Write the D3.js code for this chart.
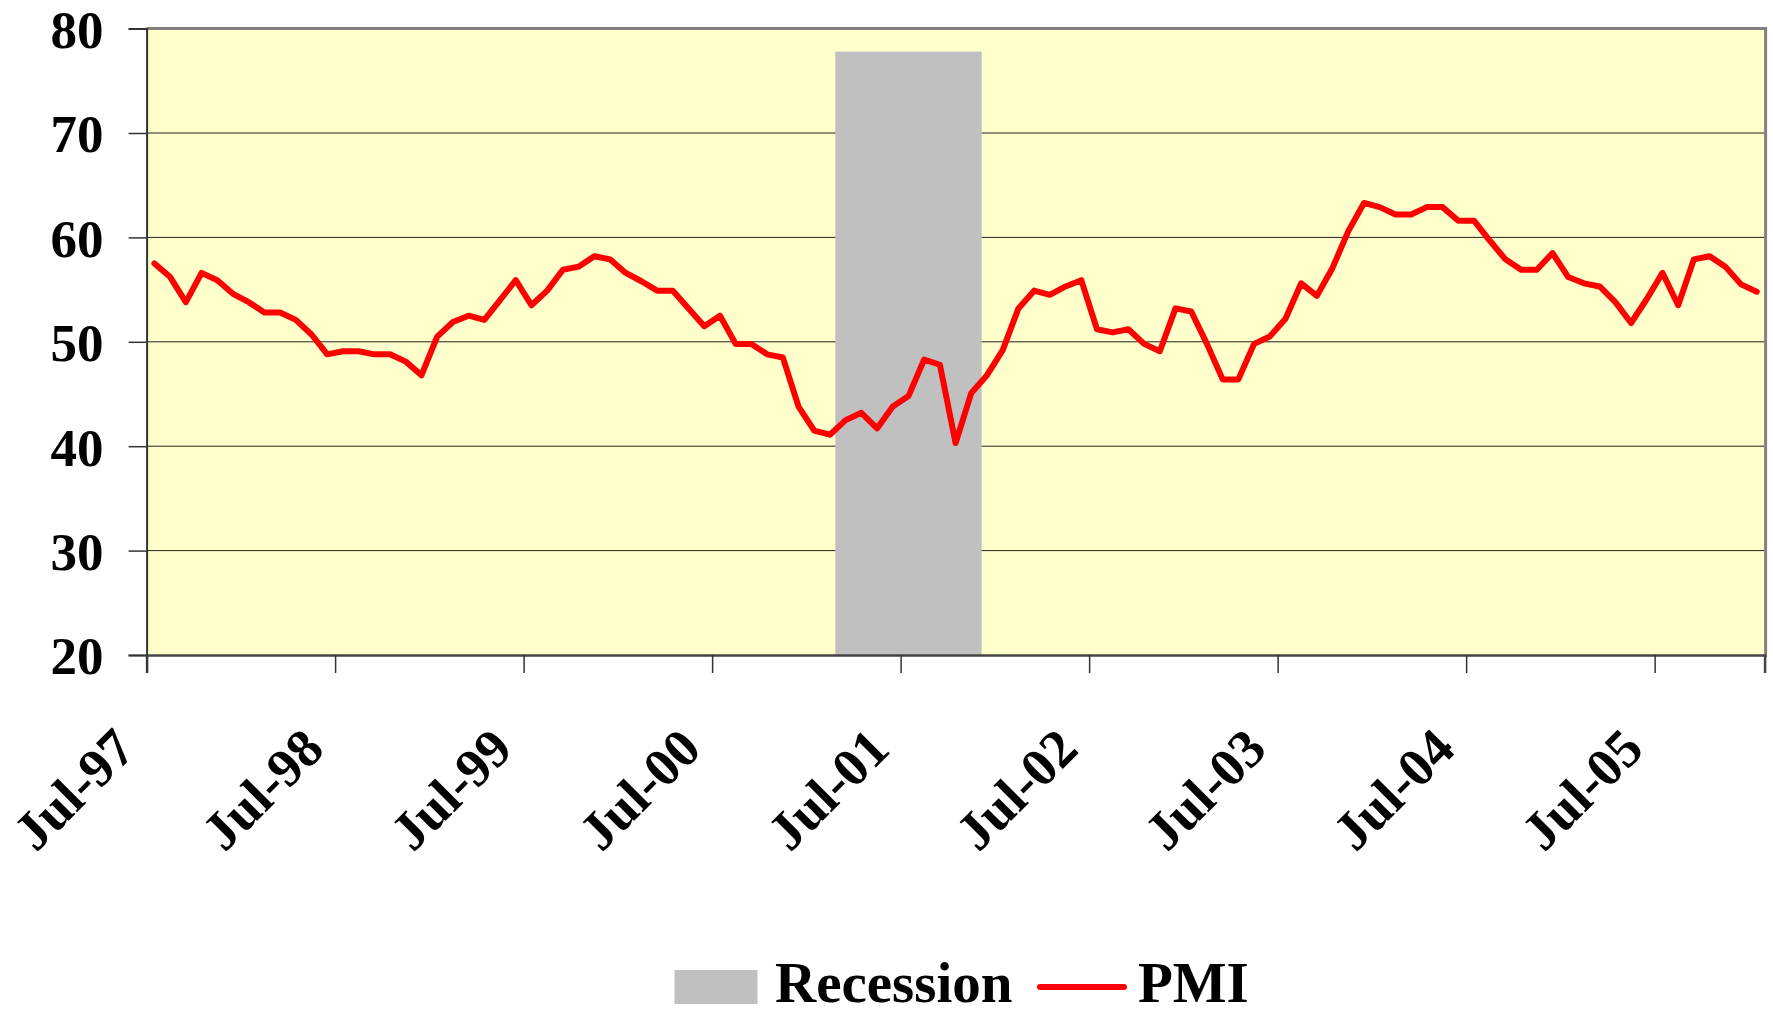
<!DOCTYPE html>
<html>
<head>
<meta charset="utf-8">
<script src="https://cdn.jsdelivr.net/npm/d3@7"></script>
<style>
  body { margin: 0; background: #fff; }
  svg text { font-family: 'Liberation Serif', 'Times New Roman', serif; font-weight: bold; fill: #000; }
</style>
</head>
<body>
<div id="chart"></div>
<script>
// ISM PMI, one value per month, Jul-97 .. Jan-06
const firstMonth = new Date(1997, 6, 1);
const pmi = [
  57.5, 56.2, 53.8, 56.6, 55.9, 54.6, 53.8, 52.8, 52.8, 52.1, 50.7, 48.8,
  49.1, 49.1, 48.8, 48.8, 48.1, 46.8, 50.5, 51.9, 52.5, 52.1, 54.0, 55.9,
  53.5, 54.9, 56.9, 57.2, 58.2, 57.9, 56.6, 55.8, 54.9, 54.9, 53.2, 51.5,
  52.5, 49.8, 49.8, 48.8, 48.5, 43.8, 41.5, 41.1, 42.5, 43.2, 41.7, 43.8,
  44.8, 48.3, 47.8, 40.3, 45.1, 46.8, 49.2, 53.2, 54.9, 54.5, 55.3, 55.9,
  51.2, 50.9, 51.2, 49.8, 49.1, 53.2, 52.9, 49.8, 46.4, 46.4, 49.8, 50.5,
  52.2, 55.6, 54.4, 57.1, 60.6, 63.3, 62.9, 62.2, 62.2, 62.9, 62.9, 61.6,
  61.6, 59.7, 57.9, 56.9, 56.9, 58.5, 56.2, 55.6, 55.3, 53.8, 51.8, 54.1,
  56.6, 53.5, 57.9, 58.2, 57.2, 55.5, 54.8
];
const recessionMonths = ['Mar-01', 'Apr-01', 'May-01', 'Jun-01', 'Jul-01', 'Aug-01', 'Sep-01', 'Oct-01', 'Nov-01'];
const recessionLevel = 77.8;
const yTicks = [20, 30, 40, 50, 60, 70, 80];
const xTickLabels = ['Jul-97', 'Jul-98', 'Jul-99', 'Jul-00', 'Jul-01', 'Jul-02', 'Jul-03', 'Jul-04', 'Jul-05'];

const width = 1773, height = 1015;
const plotLeft = 146.6, plotRight = 1764.6, plotTop = 28.6, plotBottom = 655;

const fmt = d3.timeFormat('%b-%y');
const months = d3.range(pmi.length).map(i => fmt(d3.timeMonth.offset(firstMonth, i)));

// month index -> px (bands of one month, point in the middle)
const x = d3.scaleLinear().domain([0, pmi.length]).range([plotLeft, plotRight]);
const y = d3.scaleLinear().domain([20, 80]).range([plotBottom, plotTop]);

const svg = d3.select('#chart')
  .append('svg')
  .attr('width', width)
  .attr('height', height);

svg.append('rect')
  .attr('x', plotLeft)
  .attr('y', plotTop)
  .attr('width', plotRight - plotLeft)
  .attr('height', plotBottom - plotTop)
  .attr('fill', '#FFFFCC');

// grid
svg.append('g')
  .selectAll('line')
  .data(yTicks.slice(1, -1))
  .enter()
  .append('line')
  .attr('x1', plotLeft)
  .attr('x2', plotRight)
  .attr('y1', d => y(d))
  .attr('y2', d => y(d))
  .attr('stroke', '#222')
  .attr('stroke-width', 1);

// recession bar (Excel draws it a touch wider than the months)
const recIdx = recessionMonths.map(m => months.indexOf(m));
svg.append('rect')
  .attr('x', x(d3.min(recIdx)) - 2.5)
  .attr('y', y(recessionLevel))
  .attr('width', x(d3.max(recIdx) + 1) - x(d3.min(recIdx)) + 5)
  .attr('height', y(20) - y(recessionLevel))
  .attr('fill', '#C0C0C0');

const line = d3.line()
  .x((d, i) => x(i + 0.5))
  .y(d => y(d));

svg.append('path')
  .datum(pmi)
  .attr('d', line)
  .attr('fill', 'none')
  .attr('stroke', '#FF0000')
  .attr('stroke-width', 6)
  .attr('stroke-linejoin', 'round')
  .attr('stroke-linecap', 'round');

// frame: top and right gray, axes dark
svg.append('line')
  .attr('x1', plotLeft).attr('x2', plotRight + 1.5)
  .attr('y1', plotTop).attr('y2', plotTop)
  .attr('stroke', '#808080').attr('stroke-width', 3);
svg.append('line')
  .attr('x1', plotRight + 1).attr('x2', plotRight + 1)
  .attr('y1', plotTop - 1.5).attr('y2', plotBottom + 2)
  .attr('stroke', '#808080').attr('stroke-width', 3);

const yAxis = d3.axisLeft(y)
  .tickValues(yTicks)
  .tickSize(18)
  .tickPadding(25)
  .tickFormat(d3.format('d'));

const yG = svg.append('g')
  .attr('transform', `translate(${plotLeft}, 0)`)
  .call(yAxis);
yG.select('.domain').attr('stroke', '#333').attr('stroke-width', 2);
yG.selectAll('.tick line').attr('stroke', '#333').attr('stroke-width', 1.5);
yG.selectAll('.tick text')
  .attr('font-size', 53)
  .attr('font-family', null)
  .attr('dy', '0.355em');

const xAxis = d3.axisBottom(x)
  .tickValues(xTickLabels.map(l => months.indexOf(l)))
  .tickSize(18)
  .tickFormat(i => months[i]);

const xG = svg.append('g')
  .attr('transform', `translate(0, ${plotBottom})`)
  .call(xAxis);
xG.select('.domain').attr('stroke', '#444').attr('stroke-width', 2.5);
xG.selectAll('.tick line').attr('stroke', '#333').attr('stroke-width', 1.5);
xG.selectAll('.tick text')
  .attr('font-size', 54)
  .attr('font-family', null)
  .attr('text-anchor', 'middle')
  .attr('y', null)
  .attr('dy', '0.35em')
  .attr('transform', 'translate(-73.5, 134) rotate(-45)');

// legend
const legend = svg.append('g').attr('font-size', 57);
legend.append('rect')
  .attr('x', 674.5)
  .attr('y', 970)
  .attr('width', 83)
  .attr('height', 34)
  .attr('fill', '#C0C0C0');
legend.append('text')
  .attr('x', 775)
  .attr('y', 1002)
  .text('Recession');
legend.append('line')
  .attr('x1', 1040).attr('x2', 1124)
  .attr('y1', 987).attr('y2', 987)
  .attr('stroke', '#FF0000')
  .attr('stroke-width', 6)
  .attr('stroke-linecap', 'round');
legend.append('text')
  .attr('x', 1138)
  .attr('y', 1002)
  .text('PMI');
</script>
</body>
</html>
